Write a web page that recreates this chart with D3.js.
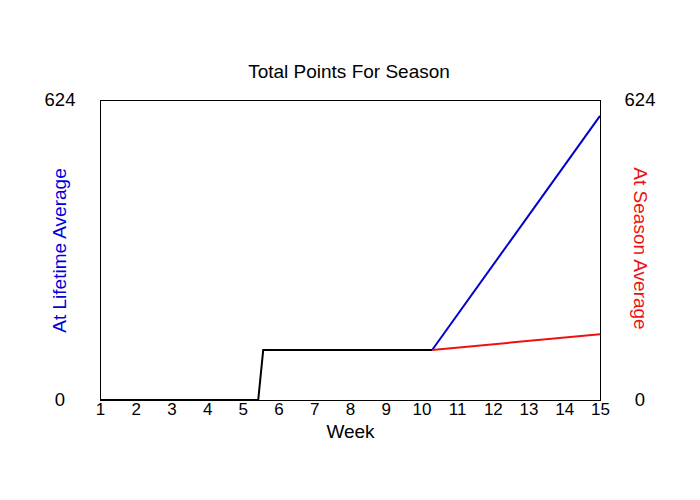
<!DOCTYPE html>
<html><head><meta charset="utf-8">
<script src="https://cdn.jsdelivr.net/npm/d3@7"></script>
<style>body{margin:0;background:#fff}svg{display:block;font-family:"Liberation Sans",Arial,sans-serif}</style>
</head><body>
<svg id="c" width="700" height="500"></svg>
<script>
const weeks = [1,2,3,4,5,6,7,8,9,10,11,12,13,14,15];
const yTicks = [0, 624];
const actualWeeks = [1, 5.43, 5.57, 10.3];
const actualPoints = [0, 0, 104, 104];
const lifetimeWeeks = [10.3, 15];
const lifetimePoints = [104, 591];
const seasonWeeks = [10.3, 15];
const seasonPoints = [104, 137];

const svg = d3.select("#c");
const x = d3.scaleLinear().domain([1,15]).range([100,600]);
const y = d3.scaleLinear().domain([0,624]).range([400,100]);
const FF = "Liberation Sans, Arial, sans-serif";

svg.append("text").attr("x",349).attr("y",78).attr("text-anchor","middle")
  .attr("font-size",19).text("Total Points For Season");

const xAxis = d3.axisBottom(x).tickValues(weeks).tickSize(0).tickPadding(3).tickFormat(d3.format("d"));
const gx = svg.append("g").attr("transform","translate(0,400)").call(xAxis);
gx.select(".domain").remove();
gx.selectAll("text").attr("font-size",17).attr("fill","#000").attr("font-family",FF);

const gl = svg.append("g").attr("transform","translate(60,0)")
  .call(d3.axisLeft(y).tickValues(yTicks).tickSize(0).tickPadding(0));
gl.select(".domain").remove();
gl.selectAll("text").attr("text-anchor","middle").attr("font-size",18.5).attr("fill","#000").attr("font-family",FF);

const gr = svg.append("g").attr("transform","translate(640,0)")
  .call(d3.axisRight(y).tickValues(yTicks).tickSize(0).tickPadding(0));
gr.select(".domain").remove();
gr.selectAll("text").attr("text-anchor","middle").attr("font-size",18.5).attr("fill","#000").attr("font-family",FF);

svg.append("text").attr("x",350.5).attr("y",437.5).attr("text-anchor","middle")
  .attr("font-size",19).text("Week");

svg.append("text").attr("transform","translate(66,250.5) rotate(-90)").attr("text-anchor","middle")
  .attr("font-size",19).attr("fill","#0000dd").text("At Lifetime Average");
svg.append("text").attr("transform","translate(634,248.5) rotate(90)").attr("text-anchor","middle")
  .attr("font-size",19).attr("fill","#ee1111").text("At Season Average");

const line = d3.line().x(d=>x(d[0])).y(d=>y(d[1]));
svg.append("path").datum(lifetimeWeeks.map((w,i)=>[w,lifetimePoints[i]]))
  .attr("d",line).attr("fill","none").attr("stroke","#0000cc").attr("stroke-width",2);
svg.append("path").datum(seasonWeeks.map((w,i)=>[w,seasonPoints[i]]))
  .attr("d",line).attr("fill","none").attr("stroke","#ee1111").attr("stroke-width",2);
svg.append("path").datum(actualWeeks.map((w,i)=>[w,actualPoints[i]]))
  .attr("d",line).attr("fill","none").attr("stroke","#000").attr("stroke-width",2);

svg.append("rect").attr("x",100).attr("y",100).attr("width",500).attr("height",300)
  .attr("fill","none").attr("stroke","#000").attr("stroke-width",1).attr("shape-rendering","crispEdges");
</script>
</body></html>
